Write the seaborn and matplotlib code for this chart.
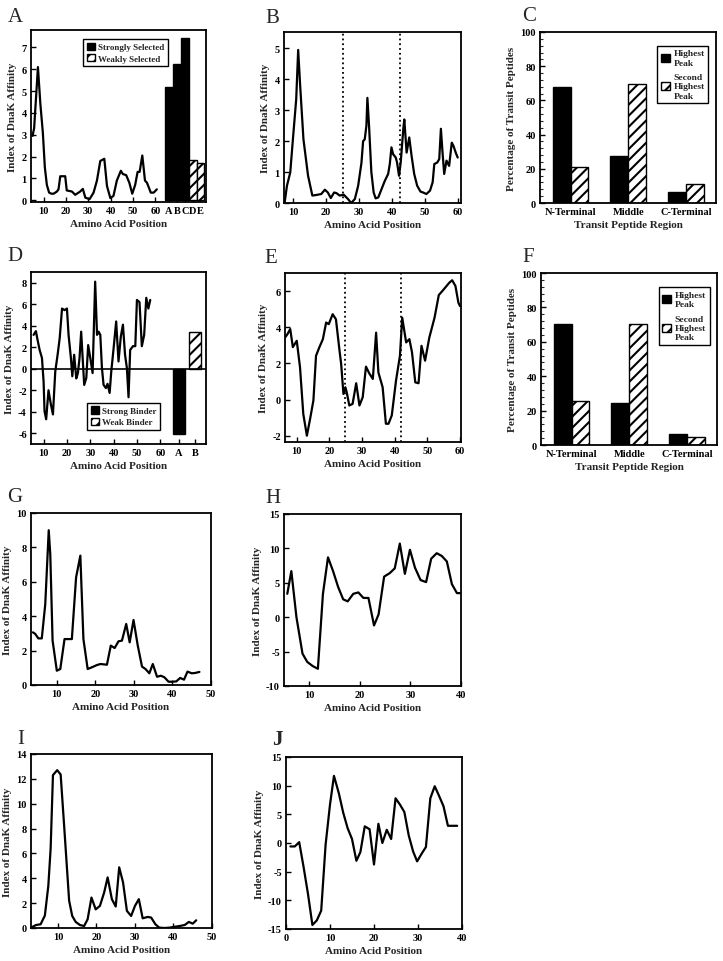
import matplotlib
matplotlib.use("Agg")
import matplotlib.pyplot as plt
from matplotlib.patches import Patch
from matplotlib.ticker import AutoMinorLocator
import numpy as np
import pandas as pd
import seaborn as sns

# ---- DATA ----
# A: profile + selected peptides
a_pos = [5.1, 5.8, 7.5, 8.6, 9.7, 10.6, 11.5, 12.5, 13.5, 14.5, 16, 16.7, 17.5, 19.7, 20.4,
         22.7, 24.2, 26.4, 27.6, 28.7, 30.6, 32.4, 33.9, 35.4, 37.2, 38.4, 39.9, 41.3, 42.8,
         44.6, 45.5, 47, 48.4, 49.7, 51, 52.1, 53, 54.2, 55.4, 56.3, 58, 59.3, 60.7]
a_idx = [2.95, 3.3, 6.1, 4.4, 3.1, 1.5, 0.7, 0.35, 0.3, 0.3, 0.4, 0.5, 1.1, 1.1, 0.45,
         0.4, 0.25, 0.4, 0.52, 0.12, 0.05, 0.35, 0.9, 1.8, 1.9, 0.65, 0.1, 0.2, 0.9,
         1.35, 1.2, 1.15, 0.8, 0.3, 0.7, 1.3, 1.3, 2.05, 0.9, 0.8, 0.35, 0.35, 0.5]
a_bar_labels = ["A", "B", "C", "D", "E"]
a_bar_vals = [5.2, 6.25, 7.45, 1.85, 1.7]
a_bar_kind = ["Strongly Selected"] * 3 + ["Weakly Selected"] * 2

# B
b_pos = [7.5, 8.2, 9.2, 10, 11, 11.6, 12.2, 13.2, 14.6, 15.9, 17.1, 18.6, 19.7, 20.6, 21.5,
         22.5, 23.2, 24.2, 25.4, 26.7, 27.7, 28.8, 29.8, 30.8, 31.3, 31.8, 32.3, 32.6, 33.1,
         33.8, 34.5, 35.1, 35.9, 36.9, 37.9, 38.9, 39.4, 39.9, 40.4, 41.2, 41.6, 42.2, 42.7,
         43.5, 43.8, 44.5, 45.3, 46, 46.8, 47.7, 48.7, 49.5, 50.5, 51.6, 52.4, 52.9, 53.8,
         54.4, 54.9, 55.4, 55.9, 56.6, 57.4, 58.2, 58.7, 59.5, 60]
b_idx = [0.02, 0.56, 0.99, 2.06, 3.35, 4.95, 3.8, 2.06, 0.88, 0.24, 0.26, 0.29, 0.43, 0.34, 0.16,
         0.34, 0.32, 0.24, 0.27, 0.13, 0.0, 0.13, 0.56, 1.3, 2.0, 2.06, 2.5, 3.4, 2.5,
         1.0, 0.34, 0.15, 0.18, 0.45, 0.72, 0.94, 1.26, 1.8, 1.58, 1.47, 1.31, 0.88, 1.3,
         2.4, 2.7, 1.63, 2.12, 1.53, 0.94, 0.56, 0.37, 0.34, 0.29, 0.4, 0.67, 1.26, 1.31,
         1.42, 2.4, 1.63, 0.94, 1.37, 1.2, 1.95, 1.85, 1.6, 1.47]
b_borders = [25.2, 42.5]

# C and F
regions = ["N-Terminal", "Middle", "C-Terminal"]
peaks = ["Highest\nPeak", "Second\nHighest\nPeak"]
c_highest = [67.8, 27.3, 6.4]
c_second = [21.0, 69.8, 10.9]
f_highest = [70.5, 24.5, 6.2]
f_second = [25.8, 70.1, 4.9]

# D
d_pos = [5.7, 6.7, 7.4, 8.3, 9.3, 10, 10.4, 11.1, 12.1, 13.1, 14, 15, 16, 16.9, 17.9, 19, 20,
         20.7, 21.7, 22.3, 23.1, 24, 24.7, 25.4, 26.1, 26.9, 27.4, 28.3, 29.1, 30, 31, 32.1,
         32.9, 33.6, 34.3, 35, 35.7, 36.7, 37.4, 38.3, 39, 40, 41.1, 42.1, 43.1, 44, 44.9,
         45.7, 46.4, 47.1, 48.3, 49.3, 50, 51.1, 52.1, 53.1, 54, 54.9, 55.7]
d_idx = [3.15, 3.5, 2.7, 1.75, 1.0, -1.2, -3.95, -4.7, -2.0, -3.3, -4.25, -0.25, 1.3, 2.85,
         5.6, 5.45, 5.6, 3.15, 1.0, -0.7, 1.3, -0.9, -0.4, 1.0, 3.45, 0.37, -1.5, -0.86, 2.2,
         1.0, -0.4, 8.1, 3.15, 3.45, 3.15, 0.06, -1.5, -1.8, -1.4, -2.25, -0.25, 1.9, 4.4,
         0.68, 3.0, 4.1, 1.3, 0.06, -2.65, 1.75, 2.1, 2.1, 6.4, 6.2, 2.1, 3.15, 6.6, 5.6, 6.4]
d_bar_labels = ["A", "B"]
d_bar_vals = [-6.1, 3.4]
d_bar_kind = ["Strong Binder", "Weak Binder"]

# E
e_pos = [6.4, 7.1, 8, 8.8, 10, 11, 12, 13.1, 14.1, 15.1, 15.9, 16.9, 18, 19, 19.8, 21, 22,
         23.1, 23.6, 24.3, 24.9, 25.3, 26.1, 27.1, 28.2, 29.2, 30.2, 31.2, 32.2, 33.3, 34.3,
         35, 36.3, 37.3, 38.1, 39.1, 40.4, 41.6, 42.3, 43.5, 44.5, 45.3, 46.3, 47.3, 48.2,
         49.3, 50.6, 52.2, 53.5, 54.9, 56.7, 57.6, 58.6, 59.5, 60]
e_idx = [3.43, 3.6, 3.9, 2.9, 3.25, 1.78, -0.8, -2.0, -1.06, -0.05, 2.42, 2.88, 3.34, 4.26,
         4.17, 4.72, 4.44, 2.7, 1.96, 0.31, 0.68, 0.4, -0.33, -0.24, 0.9, -0.33, 0.13, 1.82,
         1.45, 1.14, 3.7, 1.5, 0.68, -1.34, -1.34, -0.88, 1.05, 2.42, 4.53, 3.16, 3.34, 2.6,
         0.95, 0.9, 2.97, 2.15, 3.43, 4.53, 5.78, 6.07, 6.46, 6.6, 6.28, 5.36, 5.17]
e_borders = [24.7, 42.0]

# G
g_pos = [3.8, 4.4, 5.2, 6.1, 7, 7.9, 8.3, 8.9, 10, 10.9, 12, 13, 13.9, 15, 16.1, 16.9, 18,
         19.1, 20.4, 21.3, 23, 24, 25, 26, 26.9, 28, 28.9, 29.9, 31, 32.1, 33, 34, 34.9,
         36, 37, 37.9, 39, 40, 41, 42, 43, 43.9, 45, 45.9, 47]
g_idx = [3.06, 2.97, 2.71, 2.71, 4.7, 9.0, 7.6, 2.58, 0.83, 0.93, 2.67, 2.67, 2.67, 6.26, 7.52,
         2.67, 0.93, 1.03, 1.16, 1.22, 1.18, 2.29, 2.15, 2.54, 2.58, 3.55, 2.48, 3.78, 2.29,
         1.07, 0.93, 0.68, 1.22, 0.48, 0.54, 0.45, 0.19, 0.19, 0.21, 0.41, 0.31, 0.78, 0.68,
         0.7, 0.76]

# H
h_pos = [5.65, 6.45, 7.46, 8.66, 9.6, 10.67, 11.7, 12.7, 13.7, 14.7, 15.7, 16.7, 17.6, 18.7,
         19.7, 20.7, 21.7, 22.8, 23.7, 24.8, 25.9, 26.9, 27.9, 28.9, 29.9, 30.9, 32, 33.1,
         34.1, 35.2, 36.2, 37.2, 38.2, 39.2, 40.2]
h_idx = [3.4, 6.7, 0.0, -5.3, -6.5, -7.1, -7.5, 3.4, 8.7, 6.7, 4.4, 2.6, 2.3, 3.4, 3.6, 2.8,
         2.8, -1.2, 0.4, 5.9, 6.4, 7.1, 10.7, 6.3, 9.8, 7.2, 5.4, 5.1, 8.5, 9.3, 8.9, 8.1,
         4.8, 3.5, 3.5]

# I
i_pos = [3.3, 4.3, 5.5, 6.6, 7.5, 8.1, 8.7, 9.8, 10.7, 11.6, 12.9, 13.7, 14.6, 15.7, 16.8,
         17.7, 18.7, 19.8, 20.9, 22, 22.9, 24, 25, 25.9, 26.9, 27.9, 29, 30, 31, 32, 33.3,
         34.2, 35.3, 36.3, 37.7, 39, 40.3, 41.6, 42.9, 44, 45, 45.9]
i_idx = [0.08, 0.24, 0.3, 1.0, 3.4, 6.4, 12.3, 12.7, 12.35, 8.25, 2.2, 0.97, 0.49, 0.24,
         0.16, 0.7, 2.45, 1.5, 1.78, 2.86, 4.07, 2.32, 1.73, 4.88, 3.67, 1.38, 0.97, 1.78,
         2.32, 0.78, 0.89, 0.84, 0.3, 0.03, 0.0, 0.03, 0.1, 0.16, 0.24, 0.49, 0.35, 0.62]

# J
j_pos = [1, 2, 3, 4, 5, 6, 7, 8, 9, 10, 10.9, 12, 13, 14, 15, 16, 16.9, 17.9, 19, 20, 21,
         21.9, 22.9, 23.9, 24.9, 25.9, 26.9, 27.9, 28.9, 29.8, 30.8, 31.8, 32.8, 33.8, 34.8,
         35.8, 36.8, 37.8, 38.9]
j_idx = [-0.6, -0.6, 0.15, -4.2, -8.9, -14.3, -13.5, -11.8, -0.3, 6.7, 11.7, 8.7, 5.3, 2.6,
         0.7, -3.1, -1.6, 2.9, 2.4, -3.75, 3.35, 0.0, 2.3, 0.7, 7.8, 6.7, 5.4, 1.3, -1.5,
         -3.2, -1.9, -0.7, 7.8, 9.9, 8.2, 6.4, 3.0, 3.0, 3.0]

# ---- STYLE ----
sns.set_style("ticks")
plt.rcParams["font.family"] = ["Liberation Serif", "DejaVu Serif"]
plt.rcParams["font.weight"] = "bold"
plt.rcParams["axes.labelweight"] = "bold"
plt.rcParams["axes.unicode_minus"] = False
plt.rcParams["hatch.linewidth"] = 1.5
plt.rcParams["xtick.direction"] = "in"
plt.rcParams["ytick.direction"] = "in"

W, H = 723, 962
fig = plt.figure(figsize=(W / 100, H / 100), dpi=100)


def make_ax(left, top, right, bottom):
    # pixel box of the axes in the reference image
    ax = fig.add_axes([left / W, 1 - bottom / H, (right - left) / W, (bottom - top) / H])
    for s in ax.spines.values():
        s.set_linewidth(1.3)
        s.set_color("black")
    ax.tick_params(labelsize=7.5, length=3.5, width=1, colors="black", pad=3)
    return ax


def finish(ax, ylabel, xlabel):
    ax.set_ylabel(ylabel, fontsize=8, labelpad=3)
    ax.set_xlabel(xlabel, fontsize=8, labelpad=3)
    for t in ax.get_xticklabels() + ax.get_yticklabels():
        t.set_fontweight("bold")


def profile(ax, x, y):
    sns.lineplot(x=x, y=y, ax=ax, color="black", lw=1.6, sort=False, estimator=None)


def hatch_white(ax):
    for p in ax.patches:
        if tuple(p.get_facecolor()[:3]) == (1.0, 1.0, 1.0):
            p.set_hatch("///")


def box_legend(ax, labels, loc, anchor, fs=6.5, spacing=0.25):
    handles = [Patch(facecolor="black", edgecolor="black"),
               Patch(facecolor="white", edgecolor="black", hatch="///")]
    leg = ax.legend(handles, labels, loc=loc, bbox_to_anchor=anchor, fontsize=fs,
                    frameon=True, fancybox=False, framealpha=1, handlelength=0.9,
                    handleheight=0.9, handletextpad=0.4, borderpad=0.4,
                    labelspacing=spacing, borderaxespad=0)
    leg.get_frame().set_edgecolor("black")
    leg.get_frame().set_linewidth(1)
    for t in leg.get_texts():
        t.set_fontweight("bold")


ylab = "Index of DnaK Affinity"
xlab = "Amino Acid Position"

# ---- A ----
ax = make_ax(31, 31, 206, 203)
profile(ax, a_pos, a_idx)
a_bar_x = [66.2 + 3.5 * i for i in range(len(a_bar_vals))]
sns.barplot(x=a_bar_x, y=a_bar_vals, hue=a_bar_kind, native_scale=True, dodge=False,
            width=1, palette={"Strongly Selected": "black", "Weakly Selected": "white"},
            edgecolor="black", linewidth=1, legend=False, ax=ax)
hatch_white(ax)
ax.set_xlim(4.4, 82.7)
ax.set_ylim(-0.08, 7.8)
ax.set_xticks([10, 20, 30, 40, 50, 60] + a_bar_x)
ax.set_xticklabels(["10", "20", "30", "40", "50", "60"] + a_bar_labels)
ax.set_yticks(range(0, 8))
box_legend(ax, ["Strongly Selected", "Weakly Selected"], "upper left", (0.297, 0.948))
finish(ax, ylab, xlab)

# ---- B ----
ax = make_ax(284, 33, 461, 204)
profile(ax, b_pos, b_idx)
for b in b_borders:
    ax.axvline(b, color="black", ls=":", lw=1.3)
ax.set_xlim(7.3, 61)
ax.set_ylim(0, 5.53)
ax.set_xticks(range(10, 61, 10))
ax.set_yticks(range(0, 6))
finish(ax, ylab, xlab)


def region_bars(ax, highest, second):
    df = pd.DataFrame({
        "region": regions * 2,
        "pct": highest + second,
        "peak": [peaks[0]] * 3 + [peaks[1]] * 3,
    })
    sns.barplot(data=df, x="region", y="pct", hue="peak", width=0.62,
                palette=["black", "white"], edgecolor="black", linewidth=1,
                legend=False, ax=ax)
    hatch_white(ax)
    ax.set_xlim(-0.53, 2.52)
    ax.set_ylim(0, 100)
    ax.set_yticks(range(0, 101, 20))
    ax.yaxis.set_minor_locator(AutoMinorLocator(5))
    ax.tick_params(axis="y", which="minor", length=2, width=0.8)
    ax.tick_params(axis="x", length=0)
    finish(ax, "Percentage of Transit Peptides", "Transit Peptide Region")


# ---- C ----
ax = make_ax(540, 33, 716, 204)
region_bars(ax, c_highest, c_second)
box_legend(ax, peaks, "upper left", (0.667, 0.92), fs=6.8, spacing=0.7)

# ---- D ----
ax = make_ax(31, 273, 206, 445)
profile(ax, d_pos, d_idx)
ax.axhline(0, color="black", lw=1.2)
d_bar_x = [68, 75]
sns.barplot(x=d_bar_x, y=d_bar_vals, hue=d_bar_kind, native_scale=True, dodge=False,
            width=5 / 7, palette={"Strong Binder": "black", "Weak Binder": "white"},
            edgecolor="black", linewidth=1, legend=False, ax=ax)
hatch_white(ax)
ax.set_xlim(4.6, 79.6)
ax.set_ylim(-7, 9)
ax.set_xticks([10, 20, 30, 40, 50, 60] + d_bar_x)
ax.set_xticklabels(["10", "20", "30", "40", "50", "60"] + d_bar_labels)
ax.set_yticks(range(-6, 9, 2))
box_legend(ax, d_bar_kind, "lower left", (0.32, 0.081))
finish(ax, ylab, xlab)

# ---- E ----
ax = make_ax(285, 274, 461, 443)
profile(ax, e_pos, e_idx)
for b in e_borders:
    ax.axvline(b, color="black", ls=":", lw=1.3)
ax.set_xlim(6.4, 60.3)
ax.set_ylim(-2.35, 7)
ax.set_xticks(range(10, 61, 10))
ax.set_yticks(range(-2, 7, 2))
finish(ax, ylab, xlab)

# ---- F ----
ax = make_ax(541, 274, 717, 446)
region_bars(ax, f_highest, f_second)
box_legend(ax, peaks, "upper left", (0.668, 0.918), fs=6.8, spacing=0.7)

# ---- G ----
ax = make_ax(31, 514, 211, 686)
profile(ax, g_pos, g_idx)
ax.set_xlim(3.3, 50)
ax.set_ylim(0, 10)
ax.set_xticks(range(10, 51, 10))
ax.set_yticks(range(0, 11, 2))
finish(ax, ylab, xlab)

# ---- H ----
ax = make_ax(284, 515, 461, 687)
profile(ax, h_pos, h_idx)
ax.set_xlim(5, 40)
ax.set_ylim(-10, 15)
ax.set_xticks(range(10, 41, 10))
ax.set_yticks(range(-10, 16, 5))
finish(ax, ylab, xlab)

# ---- I ----
ax = make_ax(31, 755, 212, 929)
profile(ax, i_pos, i_idx)
ax.set_xlim(3, 50)
ax.set_ylim(0, 14)
ax.set_xticks(range(10, 51, 10))
ax.set_yticks(range(0, 15, 2))
finish(ax, ylab, xlab)

# ---- J ----
ax = make_ax(286, 758, 462, 930)
profile(ax, j_pos, j_idx)
ax.set_xlim(0, 40)
ax.set_ylim(-15, 15)
ax.set_xticks(range(0, 41, 10))
ax.set_yticks(range(-15, 16, 5))
finish(ax, ylab, xlab)

# panel letters
letters = {"A": (8, 22), "B": (265, 23), "C": (522, 21), "D": (7, 261), "E": (264, 263),
           "F": (522, 262), "G": (7, 502), "H": (265, 503), "I": (17, 744), "J": (272, 745)}
for k, (px, py) in letters.items():
    fig.text(px / W, 1 - py / H, k, fontsize=15, fontweight="bold" if k == "J" else "normal",
             va="baseline", ha="left")

fig.savefig("out.png", dpi=100)
